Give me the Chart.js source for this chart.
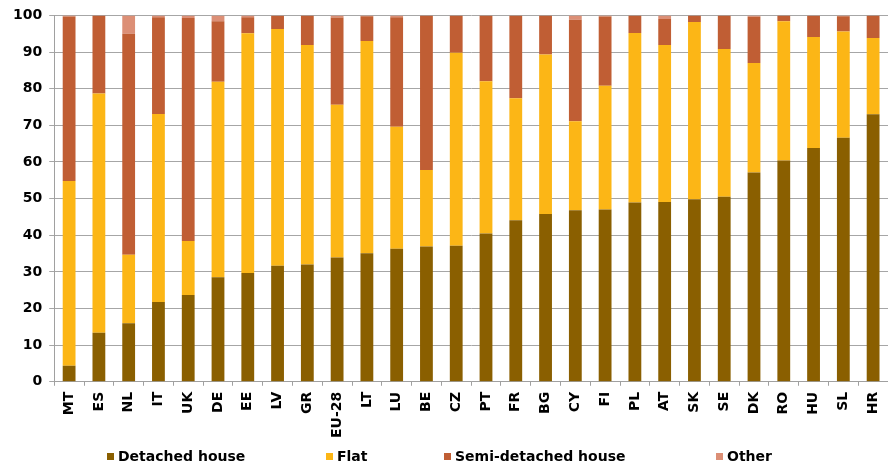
<!DOCTYPE html>
<html>
<head>
<meta charset="utf-8">
<script src="https://cdn.jsdelivr.net/npm/chart.js@4/dist/chart.umd.min.js"></script>
<style>
  html, body { margin: 0; padding: 0; background: #fff; }
  #box { width: 888px; height: 470px; }
</style>
</head>
<body>
<div id="box"><canvas id="grafico"></canvas></div>
<script>
// Dados (%)
const paises = ['MT','ES','NL','IT','UK','DE','EE','LV','GR','EU-28','LT','LU','BE','CZ','PT','FR','BG','CY','FI','PL','AT','SK','SE','DK','RO','HU','SL','HR'];
const casaIsolada = [4.4,13.4,16.0,21.8,23.7,28.5,29.7,31.7,32.0,33.9,35.1,36.3,36.9,37.1,40.5,44.1,45.8,46.8,47.0,48.9,49.1,49.8,50.5,57.1,60.4,63.8,66.6,73.0];
const apartamento = [50.4,65.3,18.7,51.3,14.7,53.4,65.4,64.6,59.9,41.7,57.9,33.3,20.9,52.7,41.5,33.3,43.5,24.3,33.8,46.3,42.8,48.4,40.3,29.9,38.0,30.3,29.0,20.8];
const geminada = [44.9,21.3,60.3,26.4,60.9,16.5,4.4,3.6,8.1,23.8,6.8,29.9,42.2,10.2,18.0,22.6,10.7,27.7,18.9,4.8,7.1,1.8,9.2,12.6,1.6,5.8,4.2,6.2];
const outros = [0.3,0,5.0,0.5,0.7,1.6,0.5,0.1,0,0.6,0.2,0.5,0,0,0,0,0,1.2,0.3,0,1.0,0,0,0.4,0,0.1,0.2,0];

const fonte = { family: 'DejaVu Sans', size: 14, weight: 'bold' };

// Legenda desenhada à mão, com o espaçamento do original
const posLegenda = [107, 326, 444, 716];
const legendaManual = {
    id: 'legendaManual',
    afterDraw(chart) {
        const ctx = chart.ctx;
        ctx.save();
        ctx.font = 'bold 14px "DejaVu Sans"';
        ctx.textBaseline = 'middle';
        chart.data.datasets.forEach((ds, i) => {
            const x = posLegenda[i];
            const y = 457;
            ctx.fillStyle = ds.backgroundColor;
            ctx.fillRect(x, y - 4, 7, 7);
            ctx.fillStyle = '#000';
            ctx.fillText(ds.label, x + 11, y);
        });
        ctx.restore();
    }
};

new Chart(document.getElementById('grafico'), {
    type: 'bar',
    data: {
        labels: paises,
        datasets: [
            { label: 'Detached house', data: casaIsolada, backgroundColor: '#8a5f00' },
            { label: 'Flat', data: apartamento, backgroundColor: '#fcb616' },
            { label: 'Semi-detached house', data: geminada, backgroundColor: '#c05e34' },
            { label: 'Other', data: outros, backgroundColor: '#dc8f76' }
        ]
    },
    options: {
        responsive: true,
        maintainAspectRatio: false,
        animation: false,
        layout: { padding: { left: 6, right: 0, top: 15, bottom: 26 } },
        datasets: { bar: { categoryPercentage: 1, barPercentage: 0.43, borderWidth: 0 } },
        scales: {
            x: {
                stacked: true,
                afterFit: (s) => { s.paddingRight = 0; },
                grid: { display: true, drawOnChartArea: false, drawTicks: true, tickLength: 4, color: '#a0a0a0' },
                border: { color: '#a0a0a0' },
                ticks: { color: '#000', font: fonte, maxRotation: 90, minRotation: 90, padding: 6, autoSkip: false }
            },
            y: {
                stacked: true,
                min: 0,
                max: 100,
                ticks: { stepSize: 10, color: '#000', font: fonte, padding: 7 },
                grid: { color: '#a6a6a6', tickLength: 5 },
                border: { color: '#a0a0a0' }
            }
        },
        plugins: {
            legend: { display: false },
            tooltip: { enabled: false }
        }
    },
    plugins: [legendaManual]
});
</script>
</body>
</html>
